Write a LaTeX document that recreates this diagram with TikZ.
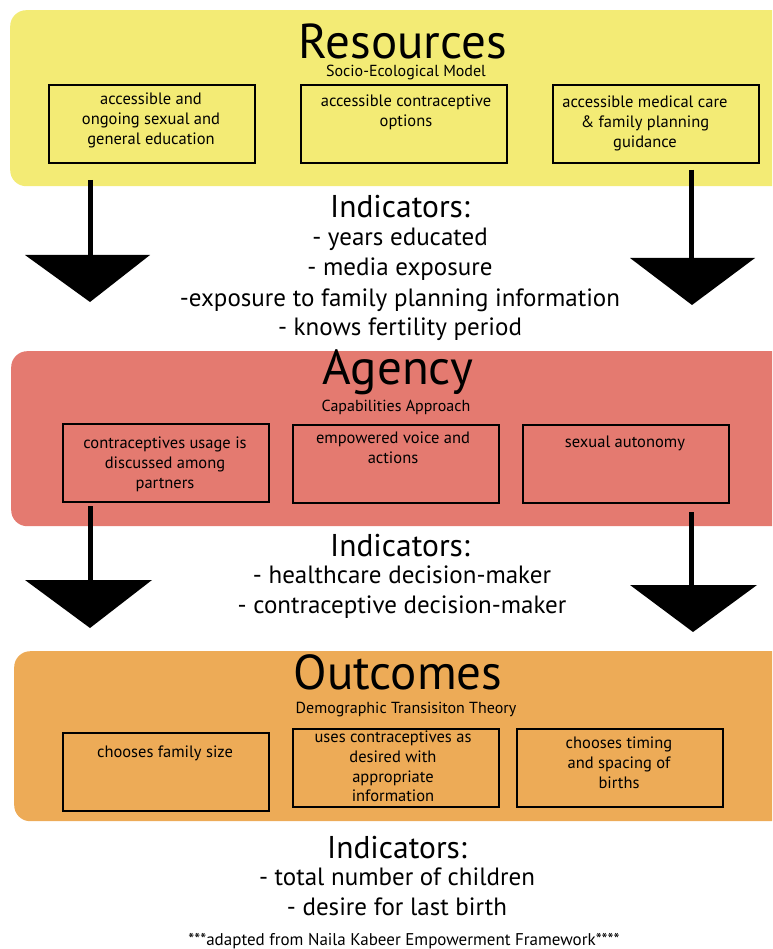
\documentclass[tikz,border=0pt]{standalone}
\usepackage{fontspec}
\setmainfont{PT Sans}
\definecolor{resy}{HTML}{F3EB75}
\definecolor{agr}{HTML}{E47A70}
\definecolor{outo}{HTML}{EDAB57}
\begin{document}
\begin{tikzpicture}[x=1pt,y=-1pt,
  panel/.style={rounded corners=16pt,anchor=north west,inner sep=0pt,minimum width=800pt},
  item/.style={draw,line width=1.6pt,minimum width=206pt,minimum height=78pt,anchor=north west,inner sep=0pt},
  itemtxt/.style={font=\fontsize{16.5}{19.7}\selectfont,align=center,anchor=north,inner sep=0pt},
  title/.style={font=\fontsize{49}{49}\selectfont,inner sep=0pt,anchor=base,text depth=0pt},
  sub/.style={font=\fontsize{16}{16}\selectfont,inner sep=0pt,anchor=base},
  indh/.style={font=\fontsize{31.5}{31.5}\selectfont,inner sep=0pt,anchor=base},
  indl/.style={font=\fontsize{25}{25}\selectfont,inner sep=0pt,anchor=base},
  shaft/.style={line width=5pt},
  head/.style={fill=black}]
\clip (0,0) rectangle (772,949);
% panels
\node[panel,fill=resy,minimum height=176pt] (res) at (10,10) {};
\node[panel,fill=agr,minimum height=175pt] (age) at (11,351) {};
\node[panel,fill=outo,minimum height=170pt] (out) at (14,651) {};
% Resources
\node[title] (restitle) at (403,59) {Resources};
\node[sub] (ressub) at (406,77) {Socio-Ecological Model};
\node[item] (r1) at (48,84) {};
\node[item] (r2) at (300,84) {};
\node[item] (r3) at (552,84) {};
\node[itemtxt] (r1t) at (151,93) {accessible and\\ongoing sexual and\\general education};
\node[itemtxt] (r2t) at (406,95) {accessible contraceptive\\options};
\node[itemtxt] (r3t) at (645,96) {accessible medical care\\\& family planning\\guidance};
\node[indh] (ind1) at (400,218) {Indicators:};
\node[indl] (ind1a) at (400,246) {- years educated};
\node[indl] (ind1b) at (400,276) {- media exposure};
\node[indl] (ind1c) at (400,306) {-exposure to family planning information};
\node[indl] (ind1d) at (400,335) {- knows fertility period};
% arrows 1
\coordinate (a1s) at (90,180); \coordinate (a1b) at (90,256);
\draw[shaft] (a1s) -- (a1b);
\fill[head] (25,255) -- (150,255) -- (90,302) -- cycle;
\coordinate (a2s) at (691,170); \coordinate (a2b) at (691,259);
\draw[shaft] (a2s) -- (a2b);
\fill[head] (630,258) -- (755,258) -- (692,305) -- cycle;
% Agency
\node[title] (agetitle) at (398,384) {Agency};
\node[sub] (agesub) at (396,411) {Capabilities Approach};
\node[item] (g1) at (62,423) {};
\node[item] (g2) at (292,424) {};
\node[item] (g3) at (522,424) {};
\node[itemtxt] (g1t) at (165,437) {contraceptives usage is\\discussed among\\partners};
\node[itemtxt] (g2t) at (393,432) {empowered voice and\\actions};
\node[itemtxt] (g3t) at (625,436) {sexual autonomy};
\node[indh] (ind2) at (400,556) {Indicators:};
\node[indl] (ind2a) at (402,583) {- healthcare decision-maker};
\node[indl] (ind2b) at (402,613) {- contraceptive decision-maker};
% arrows 2
\coordinate (a3s) at (90,506); \coordinate (a3b) at (90,581);
\draw[shaft] (a3s) -- (a3b);
\fill[head] (25,580) -- (152,580) -- (90,628) -- cycle;
\coordinate (a4s) at (691,512); \coordinate (a4b) at (691,586);
\draw[shaft] (a4s) -- (a4b);
\fill[head] (630,585) -- (757,585) -- (693,632) -- cycle;
% Outcomes
\node[title] (outtitle) at (398,689) {Outcomes};
\node[sub] (outsub) at (406,713) {Demographic Transisiton Theory};
\node[item] (o1) at (62,732) {};
\node[item] (o2) at (292,728) {};
\node[item] (o3) at (516,728) {};
\node[itemtxt] (o1t) at (165,746) {chooses family size};
\node[itemtxt] (o2t) at (393,731) {uses contraceptives as\\desired with\\appropriate\\information};
\node[itemtxt] (o3t) at (619,737) {chooses timing\\and spacing of\\births};
\node[indh] (ind3) at (397,858) {Indicators:};
\node[indl] (ind3a) at (397,885) {- total number of children};
\node[indl] (ind3b) at (397,915) {- desire for last birth};
\node[font=\fontsize{17}{17}\selectfont,inner sep=0pt,anchor=base] (foot) at (404,945) {***adapted from Naila Kabeer Empowerment Framework****};
\end{tikzpicture}
\end{document}
